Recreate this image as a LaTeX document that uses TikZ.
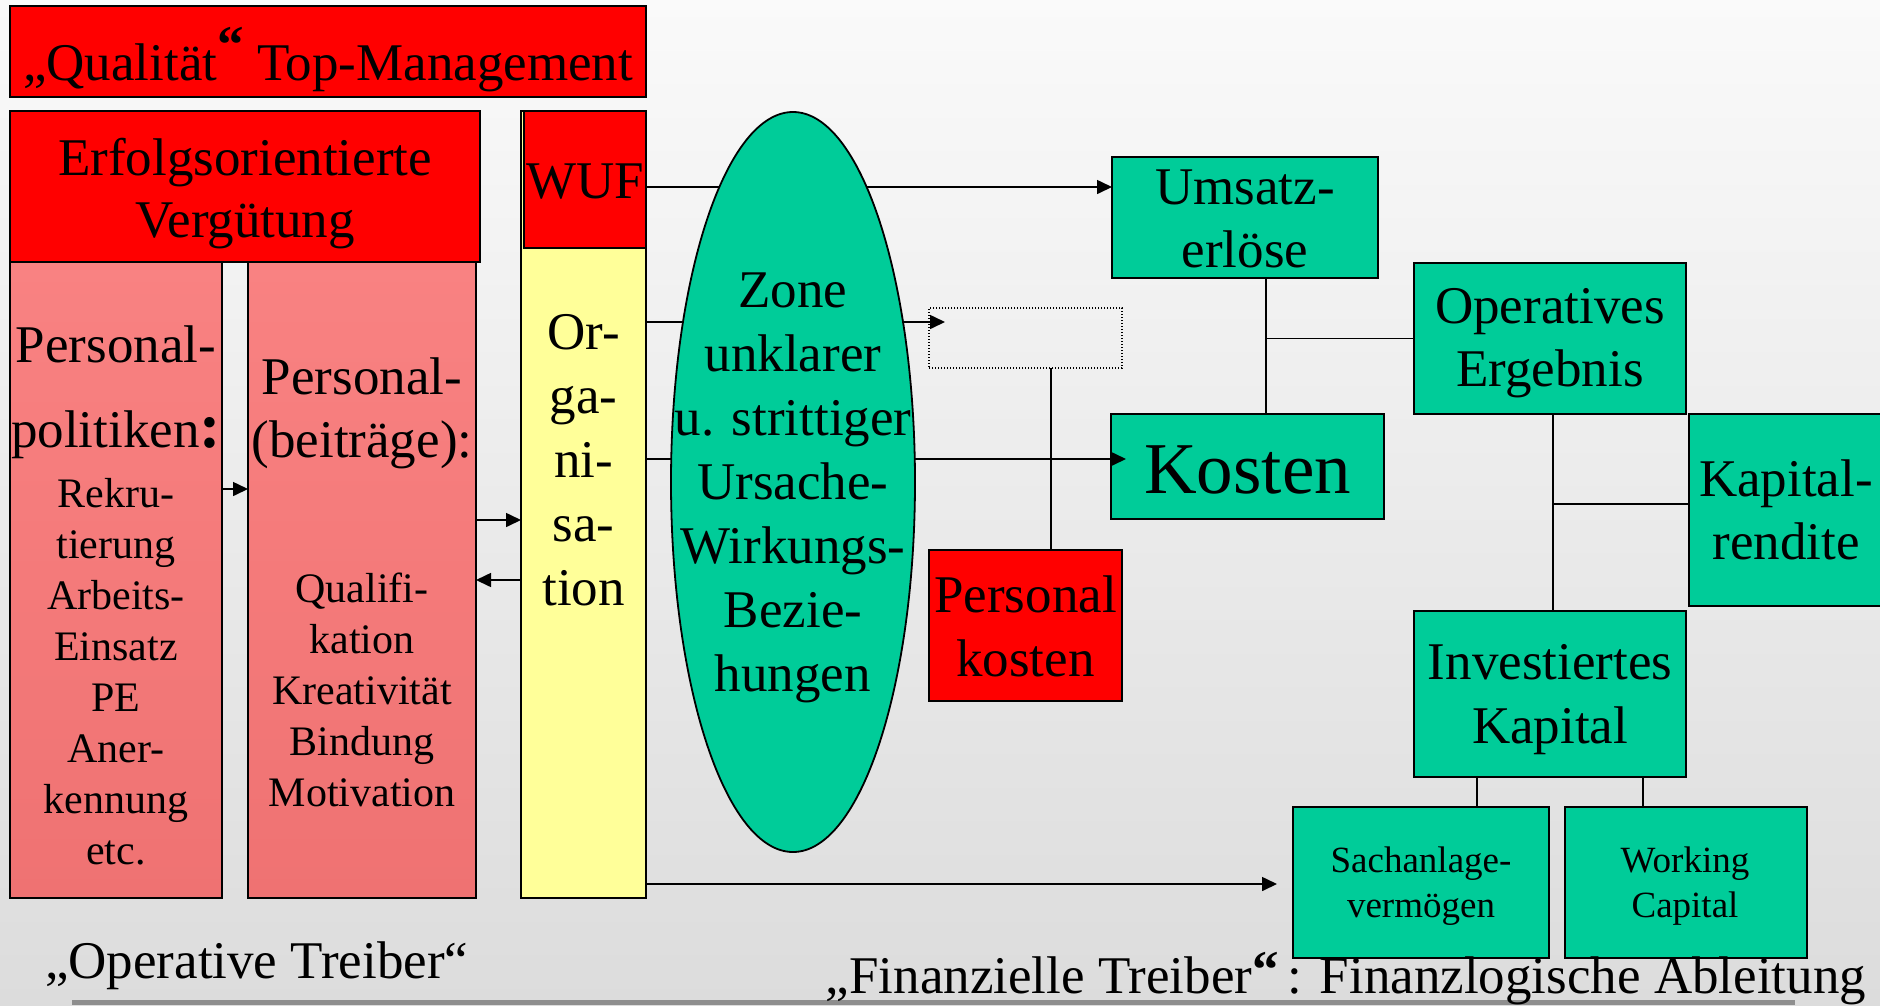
\documentclass[tikz,border=0pt]{standalone}
\usepackage{fontspec}
\setmainfont{Liberation Serif}
\usetikzlibrary{arrows.meta,shapes.geometric}
\definecolor{redbox}{HTML}{FF0000}
\definecolor{greenbox}{HTML}{00CC99}
\definecolor{yellowbox}{HTML}{FFFF99}
\definecolor{pinktop}{HTML}{F98282}
\definecolor{pinkbot}{HTML}{EF7272}
\definecolor{bgtop}{HTML}{FAFAFA}
\definecolor{bgbot}{HTML}{DCDCDC}
\definecolor{rulegray}{HTML}{8E8E8E}
\begin{document}
\begin{tikzpicture}[x=1pt,y=-1pt,
  bx/.style={draw=black, line width=1.8pt, inner sep=0pt, outer sep=0pt, rectangle},
  rbox/.style={bx, fill=redbox},
  gbox/.style={bx, fill=greenbox},
  pbox/.style={bx, top color=pinktop, bottom color=pinkbot},
  ybox/.style={bx, fill=yellowbox},
  dotbox/.style={draw=black, line width=1.3pt, dash pattern=on 1.4pt off 1.6pt, inner sep=0pt, outer sep=0pt, rectangle},
  tx/.style={inner sep=0pt, outer sep=0pt, align=center},
  big/.style={font=\fontsize{53}{63}\selectfont},
  ln/.style={line width=1.6pt, draw=black},
  arr/.style={ln, -{Triangle[length=15pt,width=14pt]}},
]
\shade[top color=bgtop, bottom color=bgbot] (0,0) rectangle (1880,1005);
\useasboundingbox (0,0) rectangle (1880,1005);
\fill[rulegray] (72,1000) rectangle (1795,1005);

% boxes
\node[rbox, minimum width=636, minimum height=91] (qual) at (328,51.5) {};
\node[pbox, minimum width=212, minimum height=636] (pp1) at (116,580) {};
\node[pbox, minimum width=228, minimum height=636] (pp2) at (362,580) {};
\node[rbox, minimum width=470, minimum height=151] (erf) at (245,186.5) {};
\node[ybox, minimum width=125, minimum height=787] (yel) at (583.5,504.5) {};
\node[rbox, minimum width=122, minimum height=137] (wuf) at (585,179.5) {};
\node[gbox, minimum width=266, minimum height=121] (ums) at (1245,217.5) {};
\node[dotbox, minimum width=193, minimum height=60] (dot) at (1025.5,338) {};
\node[gbox, minimum width=273, minimum height=105] (kost) at (1247.5,466.5) {};
\node[rbox, minimum width=193, minimum height=151] (pk) at (1025.5,625.5) {};
\node[gbox, minimum width=272, minimum height=151] (oe) at (1550,338.5) {};
\node[gbox, minimum width=193, minimum height=192] (kr) at (1785.5,510) {};
\node[gbox, minimum width=272, minimum height=166] (ik) at (1550,694) {};
\node[gbox, minimum width=256, minimum height=151] (sa) at (1421,882.5) {};
\node[gbox, minimum width=242, minimum height=151] (wc) at (1686,882.5) {};

% connectors
\draw[arr] ([yshift=91pt]pp1.east) -- ([yshift=91pt]pp2.west);
\coordinate (p2a) at ([yshift=60pt]pp2.east);
\draw[arr] (p2a) -- (p2a -| yel.west);
\draw[arr] (yel.west |- pp2.east) -- (pp2.east);
\coordinate (wufa) at ([yshift=-7.5pt]wuf.east);
\draw[arr] (wufa) -- (wufa -| ums.west);
\coordinate (ya) at ([yshift=182.5pt]yel.east);
\coordinate (dotin) at ([xshift=16pt]dot.west);
\draw[arr] (ya) -- (ya -| dotin);
\coordinate (yb) at ([yshift=45.5pt]yel.east);
\coordinate (kostin) at ([xshift=15pt]kost.west);
\draw[arr] (yb) -- (yb -| kostin);
\coordinate (yc) at ([yshift=-379.5pt]yel.east);
\coordinate (saout) at ([xshift=-16pt]sa.west);
\draw[arr] (yc) -- (yc -| saout);
\coordinate (dpk) at ([xshift=25.5pt]dot.south);
\draw[ln] (dpk) -- (dpk |- pk.north);
\coordinate (uk) at ([xshift=21pt]ums.south);
\draw[ln] (uk) -- (uk |- kost.north);
\draw[ln] (uk |- oe.west) -- (oe.west);
\coordinate (oi) at ([xshift=3pt]oe.south);
\draw[ln] (oi) -- (oi |- ik.north);
\coordinate (krj) at ([yshift=6pt]kr.west);
\draw[ln] (krj -| oi) -- (krj);
\coordinate (isa) at ([xshift=-73pt]ik.south);
\draw[ln] (isa) -- (isa |- sa.north);
\coordinate (iwc) at ([xshift=93pt]ik.south);
\draw[ln] (iwc) -- (iwc |- wc.north);

% ellipse on top of the lines
\node[ellipse, draw=black, line width=1.8pt, fill=greenbox, inner sep=0pt, outer sep=0pt, minimum width=244, minimum height=740] (zone) at (793,482) {};

% texts
\node[tx, big, anchor=base] (qualt) at (328,80) {„Qualität\raisebox{18pt}{\bfseries “} Top-Management};
\node[tx, font=\fontsize{53}{62}\selectfont, anchor=north] (erft) at (245,138.2) {Erfolgsorientierte\\Vergütung};
\node[tx, font=\fontsize{53}{85}\selectfont, anchor=north] (pp1t) at (116,326.2) {Personal-\\politiken{\fontsize{64}{64}\selectfont\bfseries :}};
\node[tx, font=\fontsize{42}{51}\selectfont, anchor=north] (pp1s) at (116,477.9) {Rekru-\\tierung\\Arbeits-\\Einsatz\\PE\\Aner-\\kennung\\etc.};
\node[tx, big, anchor=north] (pp2t) at (362,358.2) {Personal-\\(beiträge):};
\node[tx, font=\fontsize{42}{51}\selectfont, anchor=north] (pp2s) at (362,572.9) {Qualifi-\\kation\\Kreativität\\Bindung\\Motivation};
\node[tx, big, anchor=base] (wuft) at (585,198) {WUF};
\node[tx, font=\fontsize{53}{64}\selectfont, anchor=north] (yelt) at (583.5,314.2) {Or-\\ga-\\ni-\\sa-\\tion};
\node[tx, font=\fontsize{53}{64}\selectfont, anchor=north] (zonet) at (793,272.9) {Zone\\unklarer\\u. strittiger\\Ursache-\\Wirkungs-\\Bezie-\\hungen};
\node[tx, big, anchor=north] (umst) at (1245,169.9) {Umsatz-\\erlöse};
\node[tx, font=\fontsize{73}{80}\selectfont, anchor=base] (kostt) at (1247.5,493) {Kosten};
\node[tx, font=\fontsize{53}{64}\selectfont, anchor=north] (pkt) at (1025.5,576.2) {Personal\\kosten};
\node[tx, big, anchor=north] (oet) at (1550,288.8) {Operatives\\Ergebnis};
\node[tx, big, anchor=north] (krt) at (1786,460.2) {Kapital-\\rendite};
\node[tx, font=\fontsize{53}{64}\selectfont, anchor=north] (ikt) at (1550,644.8) {Investiertes\\Kapital};
\node[tx, font=\fontsize{37}{45}\selectfont, anchor=north] (sat) at (1421,847.3) {Sachanlage-\\vermögen};
\node[tx, font=\fontsize{37}{45}\selectfont, anchor=north] (wct) at (1685,847.3) {Working\\Capital};
\node[tx, big, anchor=base west] (optt) at (45,978) {„Operative Treiber“};
\node[tx, big, anchor=base east] (fint) at (1866,993) {„Finanzielle Treiber\raisebox{6pt}{\bfseries “}\,: Finanzlogische Ableitung};
\end{tikzpicture}
\end{document}
